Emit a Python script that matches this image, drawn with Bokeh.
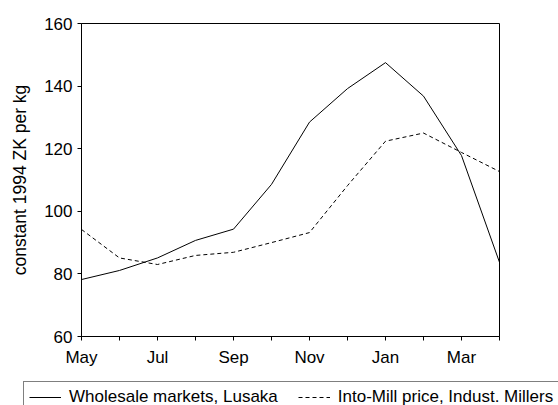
from bokeh.plotting import figure
from bokeh.layouts import column
from bokeh.models import FixedTicker, Legend, LegendItem, Range1d
from bokeh.embed import file_html
from bokeh.resources import INLINE

months = ["May", "Jun", "Jul", "Aug", "Sep", "Oct", "Nov", "Dec", "Jan", "Feb", "Mar", "Apr"]
wholesale = [78.2, 81.1, 85.1, 90.7, 94.3, 108.6, 128.5, 139.2, 147.5, 136.8, 117.8, 83.7]
into_mill = [94.2, 85.1, 83.0, 85.9, 86.9, 90.0, 93.2, 108.2, 122.4, 125.0, 118.8, 112.7]
series_names = ["Wholesale markets, Lusaka", "Into-Mill price, Indust. Millers"]
y_ticks = [60, 80, 100, 120, 140, 160]
x = list(range(len(months)))

FONT = "Liberation Sans"

p = figure(output_backend="svg", toolbar_location=None,
           width=558, height=375,
           min_border_left=81, min_border_top=23, min_border_right=59, min_border_bottom=39,
           x_range=Range1d(0, 11), y_range=Range1d(60, 160))
p.frame_align = False

p.line(x, wholesale, line_color="black", line_width=1)
p.line(x, into_mill, line_color="black", line_width=1, line_dash="4 3")

p.xgrid.visible = False
p.ygrid.visible = False
p.outline_line_color = "black"
p.outline_line_width = 1
p.outline_line_alpha = 1

xa = p.xaxis[0]
xa.ticker = FixedTicker(ticks=x)
xa.major_label_overrides = {i: (m if i % 2 == 0 else "") for i, m in enumerate(months)}
xa.minor_tick_line_color = None
xa.major_tick_in = 0
xa.major_tick_out = 4
xa.major_label_standoff = 7
xa.major_label_text_font = FONT
xa.major_label_text_font_size = "17px"
xa.major_label_text_color = "black"
xa.axis_line_color = "black"
xa.major_tick_line_color = "black"

ya = p.yaxis[0]
ya.ticker = FixedTicker(ticks=y_ticks)
ya.minor_tick_line_color = None
ya.major_tick_in = 0
ya.major_tick_out = 4
ya.major_label_standoff = 5
ya.major_label_text_font = FONT
ya.major_label_text_font_size = "17px"
ya.major_label_text_color = "black"
ya.axis_line_color = "black"
ya.major_tick_line_color = "black"
ya.axis_label = "constant 1994 ZK per kg"
ya.axis_label_text_font = FONT
ya.axis_label_text_font_size = "17.5px"
ya.axis_label_text_font_style = "normal"
ya.axis_label_text_color = "black"
ya.axis_label_standoff = 11

# legend strip below the chart (its own frame spans the full width)
lg = figure(output_backend="svg", toolbar_location=None, width=558, height=30,
            min_border=0, x_axis_type=None, y_axis_type=None,
            x_range=Range1d(0, 1), y_range=Range1d(0, 1))
lg.frame_align = False
lg.outline_line_color = None
d1 = lg.line(x, wholesale, line_color="black", line_width=1)
d2 = lg.line(x, into_mill, line_color="black", line_width=1, line_dash="4 3")

legend = Legend(items=[LegendItem(label=series_names[0], renderers=[d1]),
                       LegendItem(label=series_names[1], renderers=[d2])],
                orientation="horizontal", location=(23, -8))
legend.label_text_font = FONT
legend.label_text_font_size = "17px"
legend.label_text_color = "black"
legend.glyph_width = 32
legend.glyph_height = 16
legend.label_standoff = 8
legend.spacing = 20
legend.padding = 5
legend.margin = 0
legend.border_line_color = "black"
legend.border_line_width = 1
legend.background_fill_alpha = 1
legend.label_height = 16
lg.add_layout(legend, "center")

open("out.html", "w").write(file_html(column(p, lg, spacing=0), INLINE))
